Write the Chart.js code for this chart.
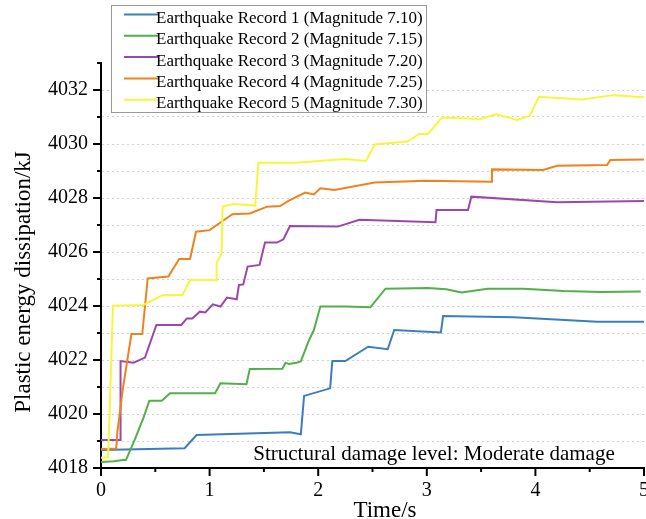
<!DOCTYPE html>
<html>
<head>
<meta charset="utf-8">
<script src="https://cdn.jsdelivr.net/npm/chart.js@4.4.1/dist/chart.umd.min.js"></script>
<style>
  html, body { margin: 0; padding: 0; background: #ffffff; }
  #wrap { width: 646px; height: 519px; position: relative; }
</style>
</head>
<body>
<div id="wrap"><canvas id="c" width="646" height="519"></canvas></div>
<script>
// ---- Data ----
const seriesLabels = [
  'Earthquake Record 1 (Magnitude 7.10)',
  'Earthquake Record 2 (Magnitude 7.15)',
  'Earthquake Record 3 (Magnitude 7.20)',
  'Earthquake Record 4 (Magnitude 7.25)',
  'Earthquake Record 5 (Magnitude 7.30)'
];
const seriesColors = ['#3a7ec0', '#52b04a', '#9b48ae', '#f0821e', '#f6f63c'];

const t1 = [0, 0.77, 0.88, 1.74, 1.84, 1.87, 2.11, 2.13, 2.25, 2.46, 2.64, 2.70, 3.13, 3.15, 3.80, 4.57, 5.0];
const v1 = [4018.67, 4018.73, 4019.22, 4019.32, 4019.25, 4020.67, 4020.95, 4021.96, 4021.96, 4022.49, 4022.40, 4023.11, 4023.02, 4023.63, 4023.58, 4023.42, 4023.42];

const t2 = [0, 0.12, 0.20, 0.23, 0.31, 0.39, 0.445, 0.56, 0.635, 1.05, 1.10, 1.34, 1.37, 1.67, 1.70, 1.73, 1.80, 1.84, 1.91, 1.96, 2.02, 2.25, 2.48, 2.62, 3.01, 3.18, 3.32, 3.56, 3.89, 4.26, 4.60, 4.97];
const v2 = [4018.22, 4018.25, 4018.30, 4018.30, 4019.04, 4019.85, 4020.49, 4020.49, 4020.77, 4020.77, 4021.14, 4021.10, 4021.67, 4021.68, 4021.90, 4021.85, 4021.90, 4021.95, 4022.68, 4023.11, 4023.98, 4023.98, 4023.95, 4024.64, 4024.67, 4024.62, 4024.50, 4024.64, 4024.64, 4024.56, 4024.52, 4024.54];

const t3 = [0, 0.175, 0.18, 0.30, 0.405, 0.51, 0.74, 0.79, 0.84, 0.91, 0.96, 1.03, 1.10, 1.16, 1.25, 1.27, 1.31, 1.35, 1.46, 1.51, 1.62, 1.68, 1.74, 2.18, 2.38, 3.08, 3.09, 3.38, 3.41, 4.20, 5.0];
const v3 = [4019.04, 4019.04, 4021.96, 4021.90, 4022.09, 4023.30, 4023.30, 4023.54, 4023.54, 4023.79, 4023.76, 4024.06, 4023.98, 4024.31, 4024.25, 4024.78, 4024.80, 4025.46, 4025.52, 4026.35, 4026.35, 4026.47, 4026.96, 4026.94, 4027.19, 4027.10, 4027.56, 4027.56, 4028.05, 4027.84, 4027.89];

const t4 = [0, 0.14, 0.15, 0.20, 0.28, 0.38, 0.43, 0.62, 0.72, 0.82, 0.875, 1.0, 1.12, 1.21, 1.37, 1.53, 1.65, 1.73, 1.88, 1.96, 2.02, 2.15, 2.52, 2.99, 3.595, 3.60, 4.07, 4.20, 4.66, 4.69, 5.0];
const v4 = [4018.70, 4018.72, 4019.30, 4020.90, 4022.96, 4022.96, 4025.02, 4025.09, 4025.74, 4025.74, 4026.75, 4026.81, 4027.15, 4027.40, 4027.43, 4027.68, 4027.70, 4027.90, 4028.20, 4028.13, 4028.36, 4028.30, 4028.57, 4028.64, 4028.60, 4029.06, 4029.04, 4029.19, 4029.22, 4029.41, 4029.43];

const t5 = [0, 0.065, 0.075, 0.11, 0.39, 0.57, 0.75, 0.82, 1.06, 1.065, 1.11, 1.12, 1.22, 1.42, 1.45, 1.79, 2.25, 2.44, 2.52, 2.82, 2.93, 3.01, 3.14, 3.49, 3.64, 3.83, 3.95, 4.03, 4.43, 4.72, 5.0];
const v5 = [4018.38, 4018.40, 4019.50, 4024.01, 4024.04, 4024.41, 4024.41, 4024.96, 4024.96, 4025.60, 4025.95, 4027.68, 4027.78, 4027.72, 4029.31, 4029.31, 4029.44, 4029.37, 4029.98, 4030.09, 4030.37, 4030.37, 4030.98, 4030.93, 4031.10, 4030.89, 4031.05, 4031.75, 4031.65, 4031.81, 4031.73];

const xMin = 0, xMax = 5, xMajorStep = 1, xMinorStep = 0.5;
const yMin = 4018, yMax = 4033, yMajorStep = 2, yMinorStep = 1;
const xTitle = 'Time/s';
const yTitle = 'Plastic energy dissipation/kJ';
const annotationText = 'Structural damage level: Moderate damage';

// ---- Build datasets ----
const times = [t1, t2, t3, t4, t5];
const values = [v1, v2, v3, v4, v5];
const datasets = seriesLabels.map((lab, i) => ({
  label: lab,
  data: times[i].map((t, k) => ({ x: t, y: values[i][k] })),
  borderColor: seriesColors[i],
  backgroundColor: seriesColors[i],
  borderWidth: 2,
  pointRadius: 0,
  tension: 0,
  fill: false,
  order: seriesLabels.length - i
}));

const SERIF = "'Liberation Serif', 'Times New Roman', 'DejaVu Serif', serif";

// Custom tick marks (major longer than minor), drawn via the scales
const tickMarks = {
  id: 'tickMarks',
  afterDraw(chart) {
    const ctx = chart.ctx;
    const xs = chart.scales.x, ys = chart.scales.y;
    ctx.save();
    ctx.strokeStyle = '#000';
    ctx.lineWidth = 2;
    ys.ticks.forEach(tk => {
      const p = ys.getPixelForValue(tk.value);
      const major = Math.abs((tk.value - yMin) % yMajorStep) < 1e-6;
      const len = major ? 8 : 4;
      ctx.beginPath();
      ctx.moveTo(ys.right - len, p);
      ctx.lineTo(ys.right, p);
      ctx.stroke();
    });
    xs.ticks.forEach(tk => {
      const p = xs.getPixelForValue(tk.value);
      const major = Math.abs(tk.value % xMajorStep) < 1e-6;
      const len = major ? 8 : 4;
      ctx.beginPath();
      ctx.moveTo(p, xs.top);
      ctx.lineTo(p, xs.top + len);
      ctx.stroke();
    });
    ctx.restore();
  }
};

// Boxed legend inside the plot (top-left), plus annotation
const boxLegend = {
  id: 'boxLegend',
  afterDraw(chart) {
    const ctx = chart.ctx;
    ctx.save();
    ctx.font = '21px ' + SERIF;
    ctx.fillStyle = '#000';
    ctx.textAlign = 'center';
    ctx.textBaseline = 'alphabetic';
    ctx.fillText(annotationText, 434, 460);

    const bx = 111.5, by = 5.5, bw = 315, bh = 107;
    ctx.fillStyle = '#ffffff';
    ctx.fillRect(bx, by, bw, bh);
    ctx.strokeStyle = '#9a9a9a';
    ctx.lineWidth = 1;
    ctx.strokeRect(bx, by, bw, bh);
    ctx.font = '17px ' + SERIF;
    ctx.textAlign = 'left';
    ctx.textBaseline = 'middle';
    chart.data.datasets.forEach((ds, i) => {
      const cy = 17.5 + i * 21.3;
      ctx.strokeStyle = ds.borderColor;
      ctx.lineWidth = 2;
      ctx.beginPath();
      ctx.moveTo(124, cy - 3);
      ctx.lineTo(159, cy - 3);
      ctx.stroke();
      ctx.fillStyle = '#000';
      ctx.fillText(ds.label, 156, cy + 1);
    });
    ctx.restore();
  }
};

const axisTitles = {
  id: 'axisTitles',
  afterDraw(chart) {
    const ctx = chart.ctx;
    ctx.save();
    ctx.fillStyle = '#000';
    ctx.font = '23px ' + SERIF;
    ctx.textAlign = 'center';
    ctx.textBaseline = 'alphabetic';
    ctx.fillText(xTitle, 385, 517);
    ctx.translate(30, 282);
    ctx.rotate(-Math.PI / 2);
    ctx.fillText(yTitle, 0, 0);
    ctx.restore();
  }
};

new Chart(document.getElementById('c'), {
  type: 'line',
  data: { datasets },
  plugins: [tickMarks, boxLegend, axisTitles],
  options: {
    responsive: false,
    animation: false,
    layout: { padding: { top: 63, right: 2, left: 0, bottom: 0 } },
    plugins: {
      legend: { display: false },
      tooltip: { enabled: false },
      title: { display: false }
    },
    scales: {
      x: {
        type: 'linear',
        min: xMin, max: xMax,
        afterFit(s) { s.height = 51; s.paddingLeft = 0; s.paddingRight = 0; },
        grid: { drawOnChartArea: false, drawTicks: false },
        border: { display: true, color: '#000', width: 2 },
        ticks: {
          stepSize: xMinorStep,
          autoSkip: false,
          maxRotation: 0,
          padding: 11,
          color: '#000',
          font: { family: SERIF, size: 20 },
          callback: v => (Math.abs(v % xMajorStep) < 1e-6 ? String(Math.round(v)) : '')
        },
        title: { display: false }
      },
      y: {
        type: 'linear',
        min: yMin, max: yMax,
        afterFit(s) { s.width = 101; s.paddingTop = 0; s.paddingBottom = 0; },
        grid: {
          drawTicks: false,
          color: c => (c.tick && (c.tick.value === yMin || c.tick.value === yMax)) ? 'rgba(0,0,0,0)' : '#d2d2d2',
          lineWidth: 1
        },
        border: { display: true, color: '#000', width: 2, dash: [2, 3] },
        ticks: {
          stepSize: yMinorStep,
          autoSkip: false,
          padding: 13,
          color: '#000',
          font: { family: SERIF, size: 20 },
          callback: v => (Math.abs((v - yMin) % yMajorStep) < 1e-6 ? String(v) : '')
        },
        title: { display: false }
      }
    }
  }
});
</script>
</body>
</html>
